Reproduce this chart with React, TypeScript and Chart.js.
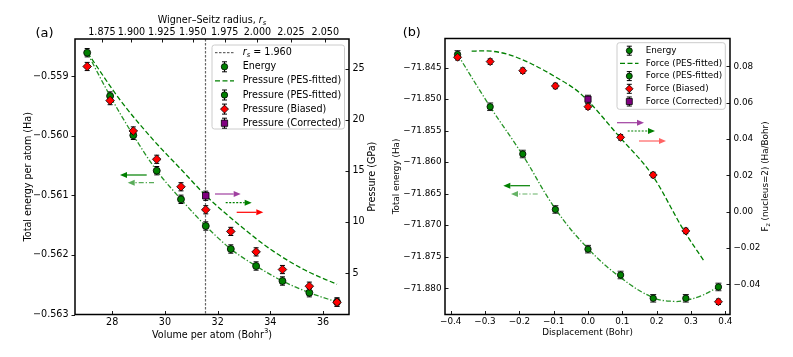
import React, { useEffect, useRef } from 'react';
import { Chart, registerables } from 'chart.js';
Chart.register(...registerables);

// ---------------- Panel (a) data ----------------
const volumeA = [27.05, 27.92, 28.8, 29.69, 30.61, 31.55, 32.5, 33.46, 34.46, 35.48, 36.53];
const energyA = [-0.558607, -0.559334, -0.559993, -0.560587, -0.561067, -0.561515, -0.561901, -0.562186, -0.562438, -0.562634, -0.56279];
const energyErrA = [0.00007, 0.00007, 0.00007, 0.00007, 0.00007, 0.00007, 0.00007, 0.00007, 0.00007, 0.00007, 0.00007];
const pressureBiasedA = [25.21, 21.87, 18.9, 16.13, 13.44, 11.19, 9.07, 7.07, 5.34, 3.71, 2.14];
const pressureBiasedErrA = [0.4, 0.4, 0.4, 0.4, 0.4, 0.4, 0.4, 0.4, 0.4, 0.4, 0.4];
const correctedVolumeA = [31.55];
const pressureCorrectedA = [12.56];
const pressureCorrectedErrA = [0.45];
const fitVolumeA = [27.065, 28.3, 29.564, 30.635, 31.56, 32.85, 34.047, 35.31, 36.53];
const pressureFitA = [26.56, 21.93, 18.01, 15.08, 12.56, 9.64, 7.25, 5.29, 3.89];
const rsMarkerA = 1.96;
const rsTicksA = [1.875, 1.9, 1.925, 1.95, 1.975, 2.0, 2.025, 2.05];
const volumeTicksA = [28, 30, 32, 34, 36];
const energyTicksA = [-0.563, -0.562, -0.561, -0.56, -0.559];
const pressureTicksA = [5, 10, 15, 20, 25];

// ---------------- Panel (b) data ----------------
const dispB = [-0.38, -0.285, -0.19, -0.095, 0, 0.095, 0.19, 0.285, 0.38];
const energyB = [-71.8429, -71.8512, -71.8587, -71.8675, -71.8738, -71.8779, -71.8816, -71.8816, -71.8798];
const energyErrB = [0.0006, 0.0006, 0.0006, 0.0006, 0.0006, 0.0006, 0.0006, 0.0006, 0.0006];
const forceBiasedB = [0.085, 0.0826, 0.0776, 0.0692, 0.0578, 0.0409, 0.0202, -0.0106, -0.0496];
const forceBiasedErrB = [0.0015, 0.0015, 0.0015, 0.0015, 0.0015, 0.0015, 0.0015, 0.0015, 0.0015];
const correctedDispB = [0];
const forceCorrectedB = [0.0619];
const forceCorrectedErrB = [0.0022];
const fitDispB = [-0.339, -0.3, -0.237, -0.168, -0.096, -0.023, 0.093, 0.187, 0.28, 0.338];
const forceFitB = [0.0884, 0.0885, 0.0868, 0.0817, 0.0743, 0.0652, 0.0409, 0.0202, -0.0106, -0.0272];
const energyFitDispB = [-0.38, -0.285, -0.19, -0.095, 0, 0.095, 0.19, 0.25, 0.285, 0.33, 0.38];
const energyFitB = [-71.8429, -71.8512, -71.8589, -71.8674, -71.8737, -71.8783, -71.8815, -71.8821, -71.8819, -71.8812, -71.8798];
const dispTicksB = [-0.4, -0.3, -0.2, -0.1, 0, 0.1, 0.2, 0.3, 0.4];
const energyTicksB = [-71.88, -71.875, -71.87, -71.865, -71.86, -71.855, -71.85, -71.845];
const forceTicksB = [-0.04, -0.02, 0, 0.02, 0.04, 0.06, 0.08];

// ---------------- helpers ----------------
const FAM = "'DejaVu Sans', sans-serif";
const rsToVolume = (rs: number) => (4 / 3) * Math.PI * rs * rs * rs;
const fmt = (v: number, d: number) => {
  const s = v.toFixed(d);
  return s.replace('-', '\u2212');
};
const pts = (xs: number[], ys: number[]) => xs.map((x, i) => ({ x, y: ys[i] }));

function drawMarker(ctx: CanvasRenderingContext2D, style: string, x: number, y: number, r: number, fill: string) {
  ctx.save();
  ctx.beginPath();
  if (style === 'circle') ctx.arc(x, y, r, 0, Math.PI * 2);
  else if (style === 'diamond') {
    ctx.moveTo(x, y - r); ctx.lineTo(x + r, y); ctx.lineTo(x, y + r); ctx.lineTo(x - r, y); ctx.closePath();
  } else {
    const h = r * 0.75;
    ctx.rect(x - h, y - h, 2 * h, 2 * h);
  }
  ctx.fillStyle = fill; ctx.fill();
  ctx.lineWidth = 0.8; ctx.strokeStyle = '#000'; ctx.stroke();
  ctx.restore();
}

function errMarker(ctx: CanvasRenderingContext2D, style: string, x: number, y: number, r: number, fill: string, half: number) {
  ctx.save();
  ctx.strokeStyle = '#000'; ctx.lineWidth = 1;
  ctx.beginPath();
  ctx.moveTo(x, y - half); ctx.lineTo(x, y + half);
  ctx.moveTo(x - 2.5, y - half); ctx.lineTo(x + 2.5, y - half);
  ctx.moveTo(x - 2.5, y + half); ctx.lineTo(x + 2.5, y + half);
  ctx.stroke();
  ctx.restore();
  drawMarker(ctx, style, x, y, r, fill);
}

function errorBars(ctx: CanvasRenderingContext2D, xs: any, ys: any, xv: number[], yv: number[], err: number[], cap: number, color: string) {
  ctx.save();
  ctx.strokeStyle = color; ctx.lineWidth = 1;
  ctx.beginPath();
  xv.forEach((xx, i) => {
    const px = xs.getPixelForValue(xx);
    const y0 = ys.getPixelForValue(yv[i] - err[i]);
    const y1 = ys.getPixelForValue(yv[i] + err[i]);
    ctx.moveTo(px, y0); ctx.lineTo(px, y1);
    ctx.moveTo(px - cap, y0); ctx.lineTo(px + cap, y0);
    ctx.moveTo(px - cap, y1); ctx.lineTo(px + cap, y1);
  });
  ctx.stroke();
  ctx.restore();
}

function arrow(ctx: CanvasRenderingContext2D, x0: number, x1: number, y: number, color: string, dash: number[]) {
  const dir = Math.sign(x1 - x0);
  const head = 7;
  ctx.save();
  ctx.strokeStyle = color; ctx.fillStyle = color; ctx.lineWidth = 1.2;
  ctx.setLineDash(dash);
  ctx.beginPath(); ctx.moveTo(x0, y); ctx.lineTo(x1 - dir * head, y); ctx.stroke();
  ctx.setLineDash([]);
  ctx.beginPath();
  ctx.moveTo(x1, y); ctx.lineTo(x1 - dir * head, y - 3); ctx.lineTo(x1 - dir * head, y + 3); ctx.closePath();
  ctx.fill();
  ctx.restore();
}

type Part = { t: string; font: string; dy?: number };
function rich(ctx: CanvasRenderingContext2D, parts: Part[], x: number, y: number, rot: number, align: 'center' | 'left' = 'center') {
  ctx.save();
  ctx.translate(x, y);
  if (rot) ctx.rotate(rot);
  ctx.fillStyle = '#000';
  ctx.textBaseline = 'middle';
  ctx.textAlign = 'left';
  const widths = parts.map((p) => { ctx.font = p.font; return ctx.measureText(p.t).width; });
  const total = widths.reduce((a, b) => a + b, 0);
  let cx = align === 'center' ? -total / 2 : 0;
  parts.forEach((p, i) => {
    ctx.font = p.font;
    ctx.fillText(p.t, cx, p.dy || 0);
    cx += widths[i];
  });
  ctx.restore();
}

function tickMarks(ctx: CanvasRenderingContext2D, scale: any, inward: boolean, len: number) {
  const ca = scale.chart.chartArea;
  ctx.save();
  ctx.strokeStyle = '#000'; ctx.lineWidth = 0.9;
  ctx.beginPath();
  scale.ticks.forEach((t: any) => {
    const p = Math.round(scale.getPixelForValue(t.value)) + 0.5;
    if (scale.isHorizontal()) {
      const y0 = scale.position === 'bottom' ? ca.bottom : ca.top;
      const dir = (scale.position === 'bottom' ? 1 : -1) * (inward ? -1 : 1);
      ctx.moveTo(p, y0); ctx.lineTo(p, y0 + dir * len);
    } else {
      const x0 = scale.position === 'left' ? ca.left : ca.right;
      const dir = (scale.position === 'left' ? -1 : 1) * (inward ? -1 : 1);
      ctx.moveTo(x0, p); ctx.lineTo(x0 + dir * len, p);
    }
  });
  ctx.stroke();
  ctx.restore();
}

function frame(ctx: CanvasRenderingContext2D, ca: any) {
  ctx.save();
  ctx.strokeStyle = '#000'; ctx.lineWidth = 1.5;
  ctx.strokeRect(ca.left, ca.top, ca.right - ca.left, ca.bottom - ca.top);
  ctx.restore();
}

function legendBox(ctx: CanvasRenderingContext2D, x: number, y: number, w: number, h: number) {
  ctx.save();
  ctx.fillStyle = 'rgba(255,255,255,0.85)';
  ctx.strokeStyle = '#cccccc'; ctx.lineWidth = 1;
  const r = 2.5;
  ctx.beginPath();
  ctx.moveTo(x + r, y); ctx.lineTo(x + w - r, y); ctx.quadraticCurveTo(x + w, y, x + w, y + r);
  ctx.lineTo(x + w, y + h - r); ctx.quadraticCurveTo(x + w, y + h, x + w - r, y + h);
  ctx.lineTo(x + r, y + h); ctx.quadraticCurveTo(x, y + h, x, y + h - r);
  ctx.lineTo(x, y + r); ctx.quadraticCurveTo(x, y, x + r, y);
  ctx.closePath(); ctx.fill(); ctx.stroke();
  ctx.restore();
}

function lineHandle(ctx: CanvasRenderingContext2D, x0: number, x1: number, y: number, color: string, dash: number[], lw: number) {
  ctx.save();
  ctx.strokeStyle = color; ctx.lineWidth = lw; ctx.setLineDash(dash);
  ctx.beginPath(); ctx.moveTo(x0, y); ctx.lineTo(x1, y); ctx.stroke();
  ctx.restore();
}

const DASH = [5, 2.5];
const DASHDOT = [5, 2, 1.3, 2];
const NOGRID = { display: false, drawTicks: false };

// ---------------- Panel (a) ----------------
function configA(): any {
  const tf = { family: FAM, size: 9.6 };
  const f = (s: number, st = '') => `${st}${s}px ${FAM}`;
  const plugin = {
    id: 'decorA',
    beforeDatasetsDraw(chart: any) {
      const ctx = chart.ctx as CanvasRenderingContext2D;
      const { x, yE, yP } = chart.scales;
      const ca = chart.chartArea;
      const vx = Math.round(x.getPixelForValue(rsToVolume(rsMarkerA))) + 0.5;
      ctx.save();
      ctx.strokeStyle = '#666'; ctx.lineWidth = 1.2; ctx.setLineDash([2.5, 1.5]);
      ctx.beginPath(); ctx.moveTo(vx, ca.top); ctx.lineTo(vx, ca.bottom); ctx.stroke();
      ctx.restore();
      errorBars(ctx, x, yE, volumeA, energyA, energyErrA, 2.5, '#000');
      errorBars(ctx, x, yP, volumeA, pressureBiasedA, pressureBiasedErrA, 2.5, '#000');
      errorBars(ctx, x, yP, correctedVolumeA, pressureCorrectedA, pressureCorrectedErrA, 2.5, '#000');
    },
    afterDraw(chart: any) {
      const ctx = chart.ctx as CanvasRenderingContext2D;
      const ca = chart.chartArea;
      const { x, xTop, yE, yP } = chart.scales;
      frame(ctx, ca);
      tickMarks(ctx, x, true, 3.5);
      tickMarks(ctx, xTop, true, 3.5);
      tickMarks(ctx, yE, false, 3.5);
      tickMarks(ctx, yP, true, 3.5);
      // arrows
      arrow(ctx, 146.7, 120, 175, 'green', []);
      arrow(ctx, 154, 127.7, 182.7, 'rgba(0,128,0,0.65)', DASHDOT);
      arrow(ctx, 215, 240.7, 194, '#a040a0', []);
      arrow(ctx, 225.7, 251.7, 202.7, 'green', [2, 1.5]);
      arrow(ctx, 236.7, 263.3, 212.3, 'red', []);
      // legend
      legendBox(ctx, 212, 45, 132.5, 84);
      const rows = [52.7, 66.8, 80.9, 95, 109.1, 123.2];
      const hx = 224.5;
      const tx = 242.7;
      lineHandle(ctx, 215, 234, rows[0], '#444', [2.5, 1.5], 1);
      errMarker(ctx, 'circle', hx, rows[1], 3.2, 'green', 5);
      lineHandle(ctx, 215, 234, rows[2], 'green', DASH, 1.3);
      errMarker(ctx, 'circle', hx, rows[3], 3.2, 'green', 5);
      errMarker(ctx, 'diamond', hx, rows[4], 4, 'red', 5);
      errMarker(ctx, 'square', hx, rows[5], 4.2, 'purple', 5);
      rich(ctx, [
        { t: 'r', font: f(9.6, 'italic ') },
        { t: 's', font: f(6.8, 'italic '), dy: 2.5 },
        { t: ' = 1.960', font: f(9.6) },
      ], tx, rows[0], 0, 'left');
      const labs = ['Energy', 'Pressure (PES-fitted)', 'Pressure (PES-fitted)', 'Pressure (Biased)', 'Pressure (Corrected)'];
      labs.forEach((l, i) => rich(ctx, [{ t: l, font: f(9.6) }], tx, rows[i + 1], 0, 'left'));
      // titles
      const cx = (ca.left + ca.right) / 2;
      const cy = (ca.top + ca.bottom) / 2;
      rich(ctx, [{ t: 'Total energy per atom (Ha)', font: f(9.6) }], 28.3, cy, -Math.PI / 2);
      rich(ctx, [{ t: 'Pressure (GPa)', font: f(9.6) }], 372.7, cy, -Math.PI / 2);
      rich(ctx, [
        { t: 'Volume per atom (Bohr', font: f(9.6) },
        { t: '3', font: f(6.8), dy: -3.5 },
        { t: ')', font: f(9.6) },
      ], cx, 335, 0);
      rich(ctx, [
        { t: 'Wigner\u2013Seitz radius, ', font: f(9.6) },
        { t: 'r', font: f(9.6, 'italic ') },
        { t: 's', font: f(6.8, 'italic '), dy: 2.5 },
      ], cx, 20.7, 0);
      rich(ctx, [{ t: '(a)', font: f(13) }], 44.5, 33.3, 0);
    },
  };
  return {
    type: 'scatter',
    data: {
      datasets: [
        { label: 'Pressure (Corrected)', data: pts(correctedVolumeA, pressureCorrectedA), yAxisID: 'yP', xAxisID: 'x', pointStyle: 'rect', pointRadius: 4.6, backgroundColor: 'purple', borderColor: '#000', borderWidth: 0.8 },
        { label: 'Pressure (Biased)', data: pts(volumeA, pressureBiasedA), yAxisID: 'yP', xAxisID: 'x', pointStyle: 'rectRot', pointRadius: 4.3, backgroundColor: 'red', borderColor: '#000', borderWidth: 0.8 },
        { label: 'Energy', data: pts(volumeA, energyA), yAxisID: 'yE', xAxisID: 'x', pointStyle: 'circle', pointRadius: 3.5, backgroundColor: 'green', borderColor: '#000', borderWidth: 0.8 },
        { label: 'Pressure (PES-fitted)', data: pts(fitVolumeA, pressureFitA), yAxisID: 'yP', xAxisID: 'x', showLine: true, pointRadius: 0, borderColor: 'green', borderWidth: 1.3, borderDash: DASH, cubicInterpolationMode: 'monotone', fill: false },
        { label: 'Energy fit', data: pts(volumeA, energyA), yAxisID: 'yE', xAxisID: 'x', showLine: true, pointRadius: 0, borderColor: 'rgba(0,128,0,0.85)', borderWidth: 1.3, borderDash: DASHDOT, cubicInterpolationMode: 'monotone', fill: false },
      ],
    },
    options: {
      responsive: false,
      animation: false,
      devicePixelRatio: 1,
      events: [],
      layout: { padding: 0 },
      plugins: { legend: { display: false }, tooltip: { enabled: false } },
      scales: {
        x: {
          type: 'linear', position: 'bottom', min: 26.588, max: 36.985,
          grid: NOGRID, border: { display: false },
          afterBuildTicks: (s: any) => { s.ticks = volumeTicksA.map((v) => ({ value: v })); },
          afterFit: (s: any) => { s.height = 42.5; },
          ticks: { font: tf, color: '#000', padding: 1.8, maxRotation: 0, autoSkip: false, callback: (v: number) => String(v) },
        },
        xTop: {
          type: 'linear', position: 'top', min: 26.588, max: 36.985, display: true,
          grid: NOGRID, border: { display: false },
          afterBuildTicks: (s: any) => { s.ticks = rsTicksA.map((r) => ({ value: rsToVolume(r) })); },
          afterFit: (s: any) => { s.height = 39; },
          ticks: { font: tf, color: '#000', padding: 1, maxRotation: 0, autoSkip: false, callback: (_v: number, i: number) => rsTicksA[i].toFixed(3) },
        },
        yE: {
          type: 'linear', position: 'left', min: -0.563, max: -0.558377,
          grid: NOGRID, border: { display: false },
          afterBuildTicks: (s: any) => { s.ticks = energyTicksA.map((v) => ({ value: v })); },
          afterFit: (s: any) => { s.width = 75; },
          ticks: { font: tf, color: '#000', padding: 6.5, autoSkip: false, callback: (v: number) => fmt(v, 3) },
        },
        yP: {
          type: 'linear', position: 'right', min: 0.94, max: 27.9,
          grid: NOGRID, border: { display: false },
          afterBuildTicks: (s: any) => { s.ticks = pressureTicksA.map((v) => ({ value: v })); },
          afterFit: (s: any) => { s.width = 36; },
          ticks: { font: tf, color: '#000', padding: 3.5, autoSkip: false, callback: (v: number) => String(v) },
        },
      },
    },
    plugins: [plugin],
  };
}

// ---------------- Panel (b) ----------------
const OFFB = 385;
function configB(): any {
  const tf = { family: FAM, size: 8.8 };
  const f = (s: number, st = '') => `${st}${s}px ${FAM}`;
  const P = (px: number) => px - OFFB;
  const plugin = {
    id: 'decorB',
    beforeDatasetsDraw(chart: any) {
      const ctx = chart.ctx as CanvasRenderingContext2D;
      const { x, yE, yF } = chart.scales;
      errorBars(ctx, x, yE, dispB, energyB, energyErrB, 3, '#222');
      errorBars(ctx, x, yF, dispB, forceBiasedB, forceBiasedErrB, 2.5, '#000');
      errorBars(ctx, x, yF, correctedDispB, forceCorrectedB, forceCorrectedErrB, 3, '#222');
    },
    afterDraw(chart: any) {
      const ctx = chart.ctx as CanvasRenderingContext2D;
      const ca = chart.chartArea;
      const { x, yE, yF } = chart.scales;
      frame(ctx, ca);
      tickMarks(ctx, x, true, 3.5);
      tickMarks(ctx, yE, true, 3.5);
      tickMarks(ctx, yF, true, 3.5);
      arrow(ctx, P(617), P(644), 122.7, '#a040a0', []);
      arrow(ctx, P(627.7), P(655), 131, 'green', [2, 1.5]);
      arrow(ctx, P(639), P(666), 141, 'rgba(255,60,60,0.8)', []);
      arrow(ctx, P(530), P(503.3), 185.7, 'green', []);
      arrow(ctx, P(537.7), P(511), 194, 'rgba(0,128,0,0.6)', DASHDOT);
      legendBox(ctx, P(617), 42.7, 108.3, 66.6);
      const rows = [50.7, 63.4, 76.1, 88.8, 101.5];
      const hx = P(629.3);
      const tx = P(645.7);
      errMarker(ctx, 'circle', hx, rows[0], 3, 'green', 4.5);
      lineHandle(ctx, P(620), P(638.5), rows[1], 'green', DASH, 1.3);
      errMarker(ctx, 'circle', hx, rows[2], 3, 'green', 4.5);
      errMarker(ctx, 'diamond', hx, rows[3], 3.8, 'red', 4.5);
      errMarker(ctx, 'square', hx, rows[4], 4, 'purple', 4.5);
      const labs = ['Energy', 'Force (PES-fitted)', 'Force (PES-fitted)', 'Force (Biased)', 'Force (Corrected)'];
      labs.forEach((l, i) => rich(ctx, [{ t: l, font: f(8.8) }], tx, rows[i], 0, 'left'));
      const cx = (ca.left + ca.right) / 2;
      const cy = (ca.top + ca.bottom) / 2;
      rich(ctx, [{ t: 'Total energy (Ha)', font: f(8.8) }], P(396.7), cy, -Math.PI / 2);
      rich(ctx, [
        { t: 'F', font: f(8.8) },
        { t: 'z', font: f(6.3), dy: 2.3 },
        { t: ' (nucleus=2) (Ha/Bohr)', font: f(8.8) },
      ], P(765.7), cy, -Math.PI / 2);
      rich(ctx, [{ t: 'Displacement (Bohr)', font: f(8.8) }], cx, 332.7, 0);
      rich(ctx, [{ t: '(b)', font: f(12.8) }], P(411.7), 33, 0);
    },
  };
  return {
    type: 'scatter',
    data: {
      datasets: [
        { label: 'Force (Corrected)', data: pts(correctedDispB, forceCorrectedB), yAxisID: 'yF', xAxisID: 'x', pointStyle: 'rect', pointRadius: 4.4, backgroundColor: 'purple', borderColor: '#000', borderWidth: 0.8 },
        { label: 'Force (Biased)', data: pts(dispB, forceBiasedB), yAxisID: 'yF', xAxisID: 'x', pointStyle: 'rectRot', pointRadius: 4, backgroundColor: 'red', borderColor: '#000', borderWidth: 0.8 },
        { label: 'Energy', data: pts(dispB, energyB), yAxisID: 'yE', xAxisID: 'x', pointStyle: 'circle', pointRadius: 3.2, backgroundColor: 'green', borderColor: '#000', borderWidth: 0.8 },
        { label: 'Force (PES-fitted)', data: pts(fitDispB, forceFitB), yAxisID: 'yF', xAxisID: 'x', showLine: true, pointRadius: 0, borderColor: 'green', borderWidth: 1.3, borderDash: DASH, cubicInterpolationMode: 'monotone', fill: false },
        { label: 'Energy fit', data: pts(energyFitDispB, energyFitB), yAxisID: 'yE', xAxisID: 'x', showLine: true, pointRadius: 0, borderColor: 'rgba(0,128,0,0.85)', borderWidth: 1.3, borderDash: DASHDOT, tension: 0.4, fill: false },
      ],
    },
    options: {
      responsive: false,
      animation: false,
      devicePixelRatio: 1,
      events: [],
      layout: { padding: { top: 38.5, left: 0, right: 0, bottom: 0 } },
      plugins: { legend: { display: false }, tooltip: { enabled: false } },
      scales: {
        x: {
          type: 'linear', position: 'bottom', min: -0.4166, max: 0.4137,
          grid: NOGRID, border: { display: false },
          afterBuildTicks: (s: any) => { s.ticks = dispTicksB.map((v) => ({ value: v })); },
          afterFit: (s: any) => { s.height = 42.5; },
          ticks: { font: tf, color: '#000', padding: 1.5, maxRotation: 0, autoSkip: false, callback: (v: number) => fmt(v, 1) },
        },
        yE: {
          type: 'linear', position: 'left', min: -71.88417, max: -71.84037,
          grid: NOGRID, border: { display: false },
          afterBuildTicks: (s: any) => { s.ticks = energyTicksB.map((v) => ({ value: v })); },
          afterFit: (s: any) => { s.width = 60; },
          ticks: { font: tf, color: '#000', padding: 3.5, autoSkip: false, callback: (v: number) => fmt(v, 3) },
        },
        yF: {
          type: 'linear', position: 'right', min: -0.05661, max: 0.09533,
          grid: NOGRID, border: { display: false },
          afterBuildTicks: (s: any) => { s.ticks = forceTicksB.map((v) => ({ value: v })); },
          afterFit: (s: any) => { s.width = 63; },
          ticks: { font: tf, color: '#000', padding: 3.5, autoSkip: false, callback: (v: number) => fmt(v, 2) },
        },
      },
    },
    plugins: [plugin],
  };
}

export default function App() {
  const refA = useRef<HTMLCanvasElement>(null);
  const refB = useRef<HTMLCanvasElement>(null);
  useEffect(() => {
    const a = new Chart(refA.current as HTMLCanvasElement, configA());
    const b = new Chart(refB.current as HTMLCanvasElement, configB());
    return () => { a.destroy(); b.destroy(); };
  }, []);
  return (
    <div style={{ position: 'absolute', left: 0, top: 0, width: 793, height: 357, background: '#fff', overflow: 'hidden' }}>
      <canvas ref={refA} width={385} height={357} style={{ position: 'absolute', left: 0, top: 0, width: 385, height: 357 }} />
      <canvas ref={refB} width={408} height={357} style={{ position: 'absolute', left: OFFB, top: 0, width: 408, height: 357 }} />
    </div>
  );
}
